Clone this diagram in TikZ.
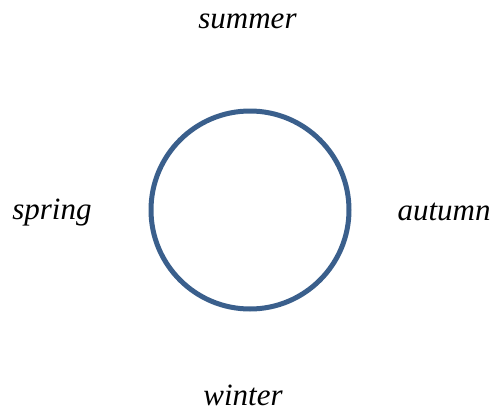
\documentclass[tikz,border=0pt]{standalone}
\usepackage{fontspec}
\setmainfont{Liberation Serif}
\usepackage{xcolor}
\definecolor{ringblue}{RGB}{58, 95, 140}

\tikzset{
  season/.style={anchor=base, inner sep=0pt, text depth=0pt, font=\fontsize{31}{36}\selectfont\itshape},
  ring/.style={circle, draw=ringblue, line width=5pt, minimum size=198pt, inner sep=0pt}
}

\begin{document}
\begin{tikzpicture}[x=1pt,y=-1pt]
  \useasboundingbox (0,0) rectangle (496,413);

  %the year as a circle
  \node[ring] (year) at (250,210) {};

  %season labels
  \node[season] (summer) at (247.5,28) {summer};
  \node[season] (spring) at (52,219) {spring};
  \node[season] (autumn) at (444,220) {autumn};
  \node[season] (winter) at (243,405) {winter};

\end{tikzpicture}
\end{document}
